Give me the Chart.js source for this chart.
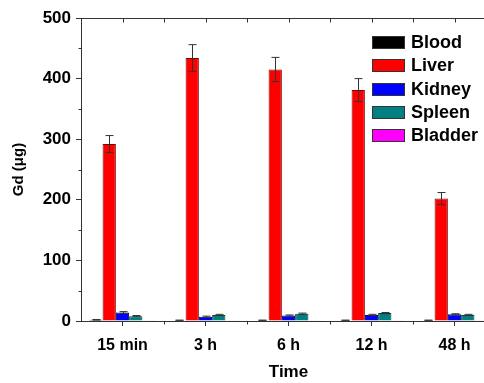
<!DOCTYPE html>
<html>
<head>
<meta charset="utf-8">
<script src="https://cdn.jsdelivr.net/npm/chart.js@4"></script>
<style>
  html, body { margin: 0; padding: 0; overflow: hidden; background: #fff; }
  #wrap { position: relative; width: 484px; height: 383px; overflow: hidden; }
  #legend { position: absolute; left: 372px; top: 31px; font: bold 18px "Liberation Sans", Arial, sans-serif; color: #000; }
  .row { display: flex; align-items: center; height: 23.3px; }
  .box { width: 31px; height: 11px; border: 1px solid #333; margin-right: 6px; }
</style>
</head>
<body>
<div id="wrap">
  <canvas id="c" width="497" height="383"></canvas>
  <div id="legend"></div>
</div>
<script>
// time points on the x axis
const categories = ["15 min", "3 h", "6 h", "12 h", "48 h"];
const seriesNames = ["Blood", "Liver", "Kidney", "Spleen", "Bladder"];
const seriesColors = ["#000000", "#ff0000", "#0000ff", "#008080", "#ff00ff"];
const seriesBorders = ["#000000", "#7a0000", "#00007a", "#003c3c", "#7a007a"];

// Gd amount (µg)
const blood   = [2, 1, 1, 1, 1];
const liver   = [292, 434, 415, 381, 202];
const kidney  = [14, 7, 9, 10, 11];
const spleen  = [8, 10, 12, 13, 10];
const bladder = [0.3, 0.3, 0.3, 0.3, 0.3];

// error bar half heights
const bloodErr   = [0.5, 0.5, 0.5, 0.5, 0.5];
const liverErr   = [14, 22, 20, 19, 10];
const kidneyErr  = [1.5, 1, 1, 1, 1];
const spleenErr  = [1, 1, 1, 1, 1];
const bladderErr = [0, 0, 0, 0, 0];

const yTicks = [0, 100, 200, 300, 400, 500];

const FONT = '"Liberation Sans", Arial, sans-serif';
const AXIS = '#333';

const values = [blood, liver, kidney, spleen, bladder];
const errs = [bloodErr, liverErr, kidneyErr, spleenErr, bladderErr];

// error bars drawn on top of the bars
const errorBars = {
  id: 'errorBars',
  afterDatasetsDraw(chart) {
    const ctx = chart.ctx, y = chart.scales.y;
    ctx.save();
    ctx.strokeStyle = AXIS;
    ctx.lineWidth = 1;
    chart.data.datasets.forEach((ds, i) => {
      const meta = chart.getDatasetMeta(i);
      meta.data.forEach((bar, j) => {
        const e = ds.errors[j];
        if (!e) return;
        const x = Math.round(bar.x) + 0.5;
        const t = y.getPixelForValue(ds.data[j] + e);
        const b = y.getPixelForValue(ds.data[j] - e);
        ctx.beginPath();
        ctx.moveTo(x, t); ctx.lineTo(x, b);
        ctx.moveTo(x - 4, t); ctx.lineTo(x + 4, t);
        ctx.moveTo(x - 4, b); ctx.lineTo(x + 4, b);
        ctx.stroke();
      });
    });
    ctx.restore();
  }
};

// top frame line and the minor ticks
const frame = {
  id: 'frame',
  afterDraw(chart) {
    const ctx = chart.ctx, a = chart.chartArea, x = chart.scales.x, y = chart.scales.y;
    const step = x.getPixelForValue(1) - x.getPixelForValue(0);
    ctx.save();
    ctx.strokeStyle = AXIS;
    ctx.lineWidth = 1;
    ctx.beginPath();
    const top = Math.round(a.top) + 0.5;
    ctx.moveTo(a.left, top); ctx.lineTo(a.right, top);
    // top axis ticks (inward), at categories and halfway between
    for (let i = 0; i < categories.length; i++) {
      const px = Math.round(x.getPixelForValue(i)) + 0.5;
      ctx.moveTo(px, top); ctx.lineTo(px, top + 4);
      const half = Math.round(x.getPixelForValue(i) + step / 2) + 0.5;
      ctx.moveTo(half, top); ctx.lineTo(half, top + 4);
    }
    // bottom minor ticks between categories
    const bot = Math.round(a.bottom) + 0.5;
    for (let i = 0; i < categories.length; i++) {
      const px = Math.round(x.getPixelForValue(i) + step / 2) + 0.5;
      ctx.moveTo(px, bot); ctx.lineTo(px, bot + 3);
    }
    // left minor ticks at 50s
    const left = Math.round(a.left) + 0.5;
    for (let v = 50; v < 500; v += 100) {
      const py = Math.round(y.getPixelForValue(v)) + 0.5;
      ctx.moveTo(left, py); ctx.lineTo(left - 3, py);
    }
    ctx.stroke();
    ctx.restore();
  }
};

new Chart(document.getElementById('c'), {
  type: 'bar',
  data: {
    labels: categories,
    datasets: seriesNames.map((name, i) => ({
      label: name,
      data: values[i],
      errors: errs[i],
      backgroundColor: seriesColors[i],
      borderColor: seriesBorders[i],
      borderWidth: 1,
      categoryPercentage: 0.8,
      barPercentage: 1
    }))
  },
  options: {
    responsive: false,
    animation: false,
    layout: { padding: { left: 0, top: 18, right: 1, bottom: 0 } },
    plugins: { legend: { display: false }, tooltip: { enabled: false } },
    scales: {
      x: {
        offset: true,
        grid: { offset: false, drawOnChartArea: false, tickLength: 5, color: AXIS },
        border: { color: AXIS, width: 1 },
        ticks: { color: '#000', padding: 10, font: { family: FONT, size: 16, weight: 'bold' } },
        title: { display: true, text: 'Time', color: '#000', padding: { top: 0, bottom: 0 }, font: { family: FONT, size: 17, weight: 'bold' } },
        afterFit(s) { s.height = 62; }
      },
      y: {
        min: 0, max: 500,
        afterBuildTicks(s) { s.ticks = yTicks.map(v => ({ value: v })); },
        grid: { drawOnChartArea: false, tickLength: 5, color: AXIS },
        border: { color: AXIS, width: 1 },
        ticks: { color: '#000', padding: 5, font: { family: FONT, size: 17, weight: 'bold' } },
        title: { display: true, text: 'Gd (μg)', color: '#000', padding: { top: 10, bottom: 0 }, font: { family: FONT, size: 15, weight: 'bold' } },
        afterFit(s) { s.width = 81; }
      }
    }
  },
  plugins: [errorBars, frame]
});

// legend inside the plot
const legend = document.getElementById('legend');
seriesNames.forEach((name, i) => {
  const row = document.createElement('div');
  row.className = 'row';
  const box = document.createElement('span');
  box.className = 'box';
  box.style.background = seriesColors[i];
  const txt = document.createElement('span');
  txt.textContent = name;
  row.appendChild(box);
  row.appendChild(txt);
  legend.appendChild(row);
});
</script>
</body>
</html>
